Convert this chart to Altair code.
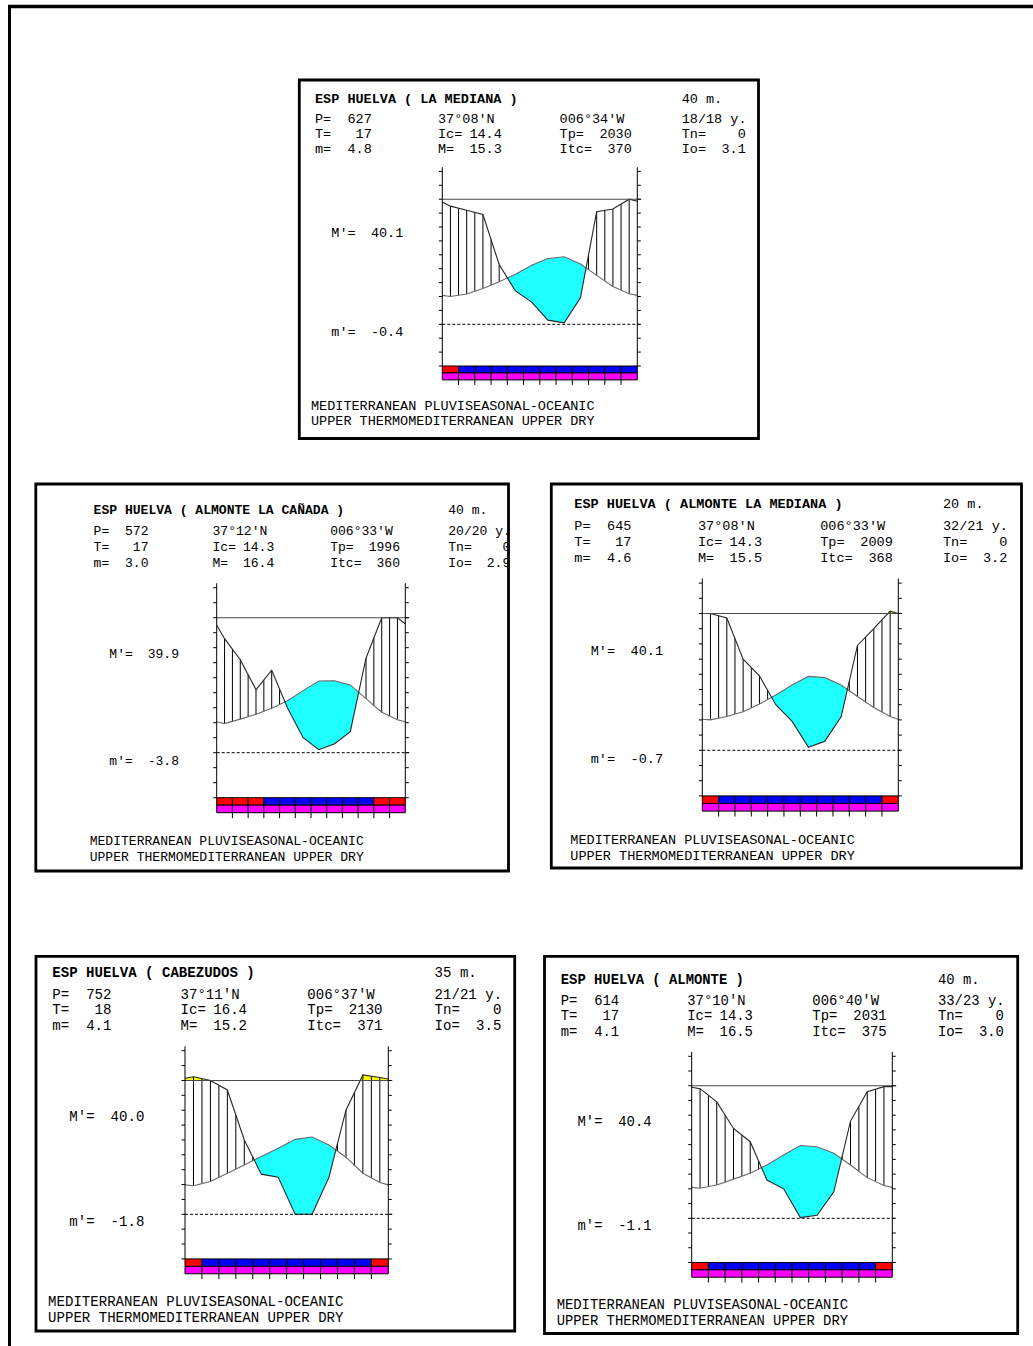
import altair as alt
import numpy as np
import pandas as pd

# ---------------------------------------------------------------- station data
station_names = ["LA MEDIANA", "ALMONTE LA CAÑADA", "ALMONTE LA MEDIANA", "CABEZUDOS", "ALMONTE"]
elevations = ["40 m.", "40 m.", "20 m.", "35 m.", "40 m."]
latitudes = ["37°08'N", "37°12'N", "37°08'N", "37°11'N", "37°10'N"]
longitudes = ["006°34'W", "006°33'W", "006°33'W", "006°37'W", "006°40'W"]
record_years = ["18/18 y.", "20/20 y.", "32/21 y.", "21/21 y.", "33/23 y."]
annual_p = [627, 572, 645, 752, 614]
annual_t = [17, 17, 17, 18, 17]
m_cold = [4.8, 3.0, 4.6, 4.1, 4.1]
M_cold = [15.3, 16.4, 15.5, 15.2, 16.5]
ic_values = [14.4, 14.3, 14.3, 16.4, 14.3]
tp_values = [2030, 1996, 2009, 2130, 2031]
itc_values = [370, 360, 368, 371, 375]
tn_values = [0, 0, 0, 0, 0]
io_values = [3.1, 2.9, 3.2, 3.5, 3.0]
abs_max = [40.1, 39.9, 40.1, 40.0, 40.4]
abs_min = [-0.4, -3.8, -0.7, -1.8, -1.1]
bioclimate = ["MEDITERRANEAN PLUVISEASONAL-OCEANIC", "UPPER THERMOMEDITERRANEAN UPPER DRY"]

# monthly mean temperature (°C): [year edge, Jan ... Dec, year edge]
temp_la_mediana = [10.4, 10.0, 10.9, 12.9, 15.3, 18.0, 21.2, 23.7, 24.3, 21.7, 17.6, 13.6, 11.0, 10.4]
temp_canada = [10.3, 9.7, 11.2, 12.8, 14.8, 17.3, 20.7, 23.9, 24.0, 22.6, 18.0, 13.5, 11.0, 10.3]
temp_almonte_mediana = [10.2, 10.0, 11.1, 12.7, 15.2, 18.2, 21.5, 24.3, 23.9, 21.5, 17.7, 14.1, 11.1, 10.2]
temp_cabezudos = [9.9, 9.6, 11.0, 13.8, 16.6, 19.4, 22.2, 25.2, 26.0, 23.3, 19.2, 13.8, 10.7, 9.9]
temp_almonte = [10.5, 10.2, 11.3, 13.3, 15.3, 18.1, 21.5, 24.7, 24.3, 22.1, 18.1, 13.8, 11.1, 10.5]

# monthly precipitation (mm): [year edge, Jan ... Dec, year edge]
prec_la_mediana = [88, 85, 82, 79, 43, 24, 16, 3, 1, 19, 81, 83, 90, 88.5]
prec_canada = [85, 76, 62, 42, 55, 30, 10, 2, 6, 14, 63, 90, 90, 86]
prec_almonte_mediana = [90, 90, 87, 60, 49, 30, 19, 2, 6, 22, 69, 80, 91.5, 90]
prec_cabezudos = [91.5, 92.5, 90, 83.6, 50, 27, 25, 0, 0, 25, 70, 93.7, 92, 91]
prec_almonte = [89, 88, 79, 61, 52, 26, 20, 0.5, 2, 18, 66, 86, 89.4, 89.4]

temperature = [temp_la_mediana, temp_canada, temp_almonte_mediana, temp_cabezudos, temp_almonte]
precipitation = [prec_la_mediana, prec_canada, prec_almonte_mediana, prec_cabezudos, prec_almonte]

# upper colour strip of the month bar: R = red, B = blue
season_bar = ["RBBBBBBBBBBB", "RRRBBBBBBBRR", "RBBBBBBBBBBR", "RBBBBBBBBBBR", "RBBBBBBBBBBR"]

# ---------------------------------------------------------------- layout
PAGE_W, PAGE_H = 1033, 1346
FONT = "Liberation Mono"
RED, BLUE, MAGENTA, CYAN, YELLOW = "#FF0000", "#0000F4", "#FF00FF", "#1EFFFF", "#FFFF00"
X_NODES = np.array([0.0] + [m + 0.5 for m in range(12)] + [12.0])
TOP = 45.0            # upper reference line (90 mm)
Y_LO, Y_HI = -15.0, 56.5
TICKS = list(range(-15, 56, 5))
TICK_PX = 3.5

# page position of every box and of its diagram
GEOM = [
    dict(box=(299.3, 80.0, 758.5, 438.5), xl=442.3, xr=637.3, zero=324.3, tick=13.9),
    dict(box=(35.8, 484.0, 508.5, 871.0), xl=216.7, xr=405.3, zero=752.7, tick=15.0),
    dict(box=(551.3, 484.0, 1021.5, 868.0), xl=702.3, xr=898.3, zero=750.3, tick=15.2),
    dict(box=(36.0, 956.3, 514.7, 1331.0), xl=185.0, xr=388.3, zero=1214.3, tick=14.87),
    dict(box=(544.5, 956.3, 1017.7, 1333.5), xl=691.7, xr=892.3, zero=1218.3, tick=14.73),
]

# text anchors, in month units (x) and degree units (y) of each diagram
LX = dict(c1=-7.834, c1e=-4.338, c2=-0.265, c2e=3.662, c3=7.218, c3e=11.662,
          c4=14.732, c4e=18.677, mlab=-6.831, mval=-2.4, foot=-8.08)
LY = dict(title=81.0, r1=73.85, r2=68.55, r3=63.2, Mp=32.8, mp=-2.75, f1=-29.5, f2=-34.8)


def crossings(x, a, b):
    """Insert the points where a - b changes sign."""
    xs, aa, bb = [x[0]], [a[0]], [b[0]]
    for k in range(1, len(x)):
        d0, d1 = a[k - 1] - b[k - 1], a[k] - b[k]
        if d0 * d1 < 0:
            f = d0 / (d0 - d1)
            xs.append(x[k - 1] + f * (x[k] - x[k - 1]))
            aa.append(a[k - 1] + f * (a[k] - a[k - 1]))
            bb.append(b[k - 1] + f * (b[k] - b[k - 1]))
        xs.append(x[k]); aa.append(a[k]); bb.append(b[k])
    return np.array(xs), np.array(aa), np.array(bb)


def f1(v):
    return f"{v:.1f}"


def panel(i):
    g = GEOM[i]
    xl, xr, zero = g["xl"], g["xr"], g["zero"]
    ppd = g["tick"] / 5.0                  # pixels per degree
    ppm = (xr - xl) / 12.0                 # pixels per month
    fs = 13.5 * (xr - xl) / 195.0

    xs = alt.Scale(domain=[0, 12], range=[xl, xr], nice=False, zero=False)
    ys = alt.Scale(domain=[Y_LO, Y_HI], range=[zero - Y_LO * ppd, zero - Y_HI * ppd],
                   nice=False, zero=False)

    def X(f):
        return alt.X(f, scale=xs, axis=None)

    def Y(f):
        return alt.Y(f, scale=ys, axis=None)

    t = np.array(temperature[i], dtype=float)
    p = np.array(precipitation[i], dtype=float) / 2.0   # 10 mm = 5 °C

    layers = []

    # dry season: temperature above precipitation
    cx, ct, cp = crossings(X_NODES, t, p)
    dry = pd.DataFrame({"x": cx, "t": ct, "lo": np.minimum(ct, cp)})
    layers.append(alt.Chart(dry).mark_area(color=CYAN, strokeWidth=0).encode(
        x=X("x:Q"), y=Y("t:Q"), y2="lo:Q"))

    # rain above the upper reference line
    if (p > TOP).any():
        wx, wp, _ = crossings(X_NODES, p, np.full_like(p, TOP))
        wet = pd.DataFrame({"x": wx, "hi": np.maximum(wp, TOP), "base": TOP})
        layers.append(alt.Chart(wet).mark_area(color=YELLOW, strokeWidth=0).encode(
            x=X("x:Q"), y=Y("hi:Q"), y2="base:Q"))

    # humid season hatching every half month
    hx = np.arange(0.5, 12.0, 0.5)
    ht = np.interp(hx, X_NODES, t)
    hp = np.interp(hx, X_NODES, p)
    keep = hp > ht
    hatch = pd.DataFrame({"x": hx[keep], "t": ht[keep], "p": hp[keep]})
    layers.append(alt.Chart(hatch).mark_rule(color="black", strokeWidth=1).encode(
        x=X("x:Q"), y=Y("t:Q"), y2="p:Q"))

    series = pd.DataFrame({"x": X_NODES, "t": t, "p": p})
    layers.append(alt.Chart(series).mark_line(color="#6a6a6a", strokeWidth=1.1).encode(
        x=X("x:Q"), y=Y("t:Q")))
    layers.append(alt.Chart(series).mark_line(color="#262626", strokeWidth=1.1).encode(
        x=X("x:Q"), y=Y("p:Q")))

    ext = 12.0 + 4.0 / ppm
    refs = pd.DataFrame({"x0": [0.0], "x1": [ext], "top": [TOP], "zero": [0.0]})
    layers.append(alt.Chart(refs).mark_rule(color="#4a4a4a", strokeWidth=1.1).encode(
        x=X("x0:Q"), x2="x1:Q", y=Y("top:Q")))
    layers.append(alt.Chart(refs).mark_rule(color="black", strokeWidth=1,
                                            strokeDash=[3, 2]).encode(
        x=X("x0:Q"), x2="x1:Q", y=Y("zero:Q")))

    # vertical axes with outward ticks on both sides
    axes = pd.DataFrame({"x": [0.0, 12.0], "y0": [Y_LO, Y_LO], "y1": [Y_HI, Y_HI]})
    layers.append(alt.Chart(axes).mark_rule(color="black", strokeWidth=1).encode(
        x=X("x:Q"), y=Y("y0:Q"), y2="y1:Q"))
    tl = TICK_PX / ppm
    tick_df = pd.DataFrame({"x0": [0.0] * len(TICKS) + [12.0] * len(TICKS),
                            "x1": [-tl] * len(TICKS) + [12.0 + tl] * len(TICKS),
                            "y": TICKS + TICKS})
    layers.append(alt.Chart(tick_df).mark_rule(color="black", strokeWidth=1).encode(
        x=X("x0:Q"), x2="x1:Q", y=Y("y:Q")))

    # month bar
    cells = []
    for m, c in enumerate(season_bar[i]):
        cells.append({"x0": m, "x1": m + 1, "y0": -15.0, "y1": -17.5,
                      "fill": RED if c == "R" else BLUE})
        cells.append({"x0": m, "x1": m + 1, "y0": -17.5, "y1": -20.0, "fill": MAGENTA})
    layers.append(alt.Chart(pd.DataFrame(cells)).mark_rect(stroke="black", strokeWidth=1).encode(
        x=X("x0:Q"), x2="x1:Q", y=Y("y0:Q"), y2="y1:Q",
        fill=alt.Fill("fill:N", scale=None)))
    marks = pd.DataFrame({"x": list(range(1, 12)), "y0": -20.0, "y1": -21.8})
    layers.append(alt.Chart(marks).mark_rule(color="black", strokeWidth=1).encode(
        x=X("x:Q"), y=Y("y0:Q"), y2="y1:Q"))

    # frame of the diagram sheet, expressed in the diagram's own units
    bx0, by0, bx1, by1 = g["box"]
    frame = pd.DataFrame({"x0": [(bx0 - xl) / ppm], "x1": [(bx1 - xl) / ppm],
                          "y0": [(zero - by0) / ppd], "y1": [(zero - by1) / ppd]})

    # header, extreme temperatures and classification
    left_items = [
        (elevations[i], "c4", "title"),
        ("P=", "c1", "r1"), ("T=", "c1", "r2"), ("m=", "c1", "r3"),
        (latitudes[i], "c2", "r1"), ("Ic=", "c2", "r2"), ("M=", "c2", "r3"),
        (longitudes[i], "c3", "r1"), ("Tp=", "c3", "r2"), ("Itc=", "c3", "r3"),
        (record_years[i], "c4", "r1"), ("Tn=", "c4", "r2"), ("Io=", "c4", "r3"),
        ("M'=", "mlab", "Mp"), ("m'=", "mlab", "mp"),
        (bioclimate[0], "foot", "f1"), (bioclimate[1], "foot", "f2"),
    ]
    right_items = [
        (str(annual_p[i]), "c1e", "r1"), (str(annual_t[i]), "c1e", "r2"),
        (f1(m_cold[i]), "c1e", "r3"),
        (f1(ic_values[i]), "c2e", "r2"), (f1(M_cold[i]), "c2e", "r3"),
        (str(tp_values[i]), "c3e", "r2"), (str(itc_values[i]), "c3e", "r3"),
        (str(tn_values[i]), "c4e", "r2"), (f1(io_values[i]), "c4e", "r3"),
        (f1(abs_max[i]), "mval", "Mp"), (f1(abs_min[i]), "mval", "mp"),
    ]
    title_items = [(f"ESP HUELVA ( {station_names[i]} )", "c1", "title")]

    def text_df(items):
        return pd.DataFrame({"label": [s for s, _, _ in items],
                             "x": [LX[a] for _, a, _ in items],
                             "y": [LY[b] for _, _, b in items]})

    for items, align, weight in ((left_items, "left", "normal"),
                                 (right_items, "right", "normal"),
                                 (title_items, "left", "bold")):
        layers.append(alt.Chart(text_df(items)).mark_text(
            font=FONT, fontSize=fs, fontWeight=weight, align=align, baseline="middle",
            color="black").encode(
            x=X("x:Q"), y=Y("y:Q"), text="label:N"))

    # white margin outside the sheet frame hides text running past its edge
    right_limit = (bx1 + 1.4 - xl) / ppm
    mask = pd.DataFrame({"x0": [right_limit], "x1": [right_limit + 3.0],
                         "y0": frame["y0"], "y1": frame["y1"]})
    layers.append(alt.Chart(mask).mark_rect(fill="white", strokeWidth=0).encode(
        x=X("x0:Q"), x2="x1:Q", y=Y("y0:Q"), y2="y1:Q"))
    layers.append(alt.Chart(frame).mark_rect(fill="white", fillOpacity=0, stroke="black",
                                             strokeWidth=2.8).encode(
        x=X("x0:Q"), x2="x1:Q", y=Y("y0:Q"), y2="y1:Q"))

    return alt.layer(*layers)


# page border (top and left edge)
border_df = pd.DataFrame({"k": [0]})
border_top = alt.Chart(border_df).mark_rule(color="black", strokeWidth=3.5).encode(
    x=alt.value(8), x2=alt.value(PAGE_W), y=alt.value(6.5))
border_left = alt.Chart(border_df).mark_rule(color="black", strokeWidth=3).encode(
    x=alt.value(9.5), y=alt.value(5), y2=alt.value(PAGE_H))

chart = alt.layer(
    *[panel(k) for k in range(len(GEOM))], border_top, border_left
).resolve_scale(x="independent", y="independent").properties(
    width=PAGE_W, height=PAGE_H, padding=0, background="white",
    autosize=alt.AutoSizeParams(type="none"),
).configure_view(strokeWidth=0)

chart.save("out.html", embed_options={"renderer": "svg", "actions": False})
